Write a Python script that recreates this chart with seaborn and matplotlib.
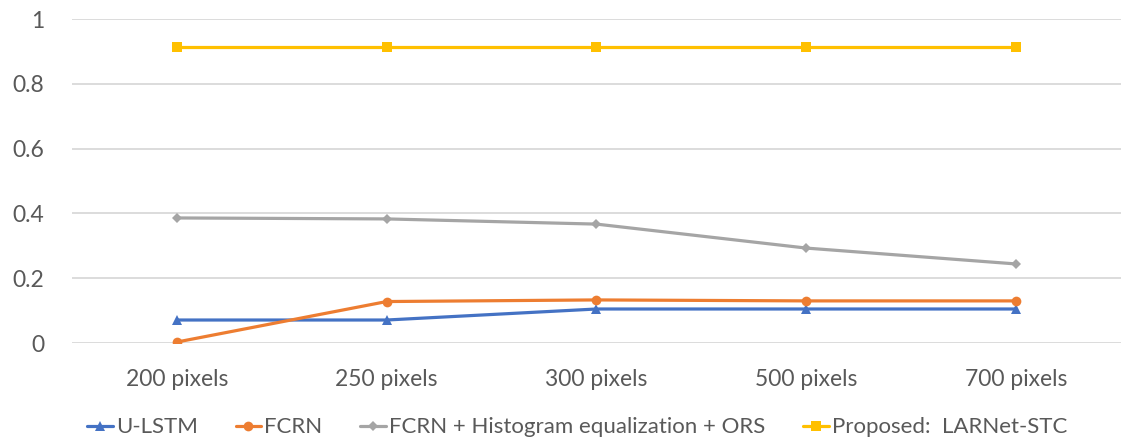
import matplotlib
matplotlib.use("Agg")
import matplotlib.pyplot as plt
import seaborn as sns
import pandas as pd

categories = ["200 pixels", "250 pixels", "300 pixels", "500 pixels", "700 pixels"]
u_lstm = [0.071, 0.071, 0.105, 0.105, 0.105]
fcrn = [0.003, 0.128, 0.133, 0.130, 0.130]
fcrn_he_ors = [0.386, 0.383, 0.367, 0.293, 0.244]
proposed = [0.914, 0.914, 0.914, 0.914, 0.914]

series_names = ["U-LSTM", "FCRN", "FCRN + Histogram equalization + ORS", "Proposed:  LARNet-STC"]
series_vals = [u_lstm, fcrn, fcrn_he_ors, proposed]
colors = ["#4472C4", "#ED7D31", "#A5A5A5", "#FFC000"]
markers = ["^", "o", "D", "s"]
msizes = [7, 7, 5, 7]

rows = []
for name, vals in zip(series_names, series_vals):
    for i, v in enumerate(vals):
        rows.append({"series": name, "x": i, "value": v})
df = pd.DataFrame(rows)

sns.set_theme(style="white")
plt.rcParams['font.family'] = ['Lato', 'DejaVu Sans']

fig = plt.figure(figsize=(11.21, 4.43), dpi=100)
ax = fig.add_axes([0.0642, 0.2257, 0.9358, 0.7314])

for name, c, m, ms in zip(series_names, colors, markers, msizes):
    sub = df[df["series"] == name]
    sns.lineplot(data=sub, x="x", y="value", ax=ax, color=c, marker=m,
                 markersize=ms, markeredgewidth=0, linewidth=2.3, label=name,
                 legend=False)

ax.set_xlim(-0.5, 4.5)
ax.set_ylim(0, 1)
ax.set_yticks([0, 0.2, 0.4, 0.6, 0.8, 1])
ax.set_yticklabels(["0", "0.2", "0.4", "0.6", "0.8", "1"])
ax.set_xticks(range(len(categories)))
ax.set_xticklabels(categories)
ax.set_xlabel("")
ax.set_ylabel("")
ax.grid(axis="y", color="#D9D9D9", linewidth=1.3)
ax.set_axisbelow(True)
for s in ax.spines.values():
    s.set_visible(False)
ax.tick_params(axis="both", length=0, labelsize=16.5, colors="#595959")
ax.tick_params(axis="y", pad=20)
ax.tick_params(axis="x", pad=19)

handles, labels = ax.get_legend_handles_labels()
fig.legend(handles, labels, loc="center", bbox_to_anchor=(0.515, 0.035), ncol=4,
           frameon=False, fontsize=16, labelcolor="#595959", handlelength=1.15,
           handletextpad=0.15, columnspacing=1.7)

fig.savefig("out.png", dpi=100)
